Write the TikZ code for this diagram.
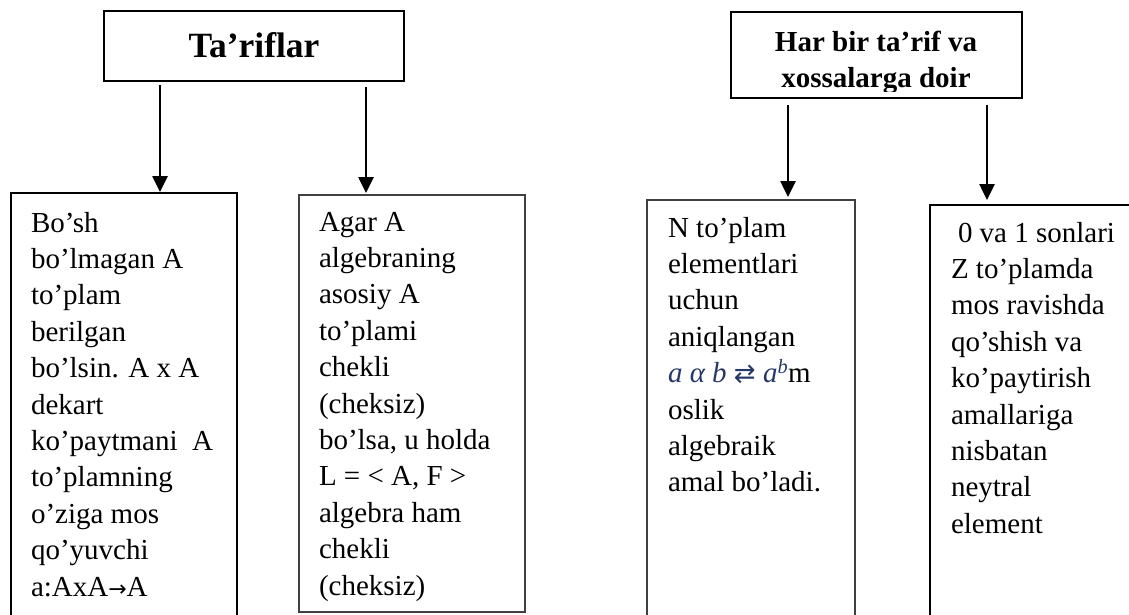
\documentclass[tikz,border=0pt]{standalone}
\usepackage{fontspec}
\setmainfont{Liberation Serif}
\newfontfamily\symfont{DejaVu Sans}
\usetikzlibrary{arrows.meta}
\definecolor{mathblue}{RGB}{38,56,104}
\definecolor{edgegray}{RGB}{64,64,64}

\begin{document}
\begin{tikzpicture}[x=1pt,y=-1pt,
  frame/.style={draw, line width=1.3pt, inner sep=0pt, outer sep=0pt, anchor=north west},
  body/.style={font=\fontsize{29}{36.4}\selectfont, align=left, inner sep=0pt, outer sep=0pt, anchor=north west},
  head/.style={font=\bfseries\fontsize{29}{36}\selectfont, align=center, inner sep=0pt, outer sep=0pt},
  link/.style={line width=2.6pt, -{Triangle[width=15pt,length=16pt]}}]

\useasboundingbox (0,0) rectangle (1129,614);
\clip (0,0) rectangle (1129,614);

% heading boxes
\node[frame, minimum width=300pt, minimum height=70pt] (T1) at (104,11) {};
\node[head, font=\bfseries\fontsize{35.5}{40}\selectfont, anchor=base] (T1txt) at (254,57) {Ta’riflar};

\begin{scope}
  % the text area ends a little above the lower border
  \clip (731,12) rectangle (1022,91);
  \node[head, anchor=north] (T2txt) at (876,25) {\rule{0pt}{26pt}Har bir ta’rif va\\ xossalarga doir};
\end{scope}
\node[frame, minimum width=291pt, minimum height=86pt] (T2) at (731,12) {};

% content boxes
\node[frame, line width=1.1pt, minimum width=226pt, minimum height=450pt] (bA) at (11,193) {};
\node[frame, draw=edgegray, line width=1.5pt, minimum width=226pt, minimum height=417pt] (bB) at (299,195) {};
\node[frame, draw=edgegray, line width=1.8pt, minimum width=208pt, minimum height=450pt] (bC) at (647,200) {};
\node[frame, line width=1.3pt, minimum width=250pt, minimum height=450pt] (bD) at (930,205) {};

% texts of the content boxes
\node[body] (tA) at (31,206) {\rule{0pt}{26pt}Bo’sh\\
  bo’lmagan A\\
  to’plam\\
  berilgan\\
  bo’lsin. A x A\\
  dekart\\
  ko’paytmani\ \ A\\
  to’plamning\\
  o’ziga mos\\
  qo’yuvchi\\
  a:AxA{\symfont\fontsize{22}{22}\selectfont →}A};

\node[body] (tB) at (319,205) {\rule{0pt}{26pt}Agar A\\
  algebraning\\
  asosiy A\\
  to’plami\\
  chekli\\
  (cheksiz)\\
  bo’lsa, u holda\\
  L = < A, F >\\
  algebra ham\\
  chekli\\
  (cheksiz)};

\node[body] (tC) at (668,211) {\rule{0pt}{26pt}N to’plam\\
  elementlari\\
  uchun\\
  aniqlangan\\
  {\color{mathblue}\itshape a α b {\upshape\symfont\fontsize{26}{26}\selectfont ⇄} a\textsuperscript{b}}m\\
  oslik\\
  algebraik\\
  amal bo’ladi.};

\node[body] (tD) at (951,216) {\rule{0pt}{26pt}\hspace*{7pt}0 va 1 sonlari\\
  Z to’plamda\\
  mos ravishda\\
  qo’shish va\\
  ko’paytirish\\
  amallariga\\
  nisbatan\\
  neytral\\
  element};

% connectors
\coordinate (s1) at (160,85);
\coordinate (s2) at (366,87);
\coordinate (s3) at (788,105);
\coordinate (s4) at (987,105);
\draw[link, shorten >=1pt] (s1) -- (s1 |- bA.north);
\draw[link, shorten >=2pt] (s2) -- (s2 |- bB.north);
\draw[link, shorten >=3pt] (s3) -- (s3 |- bC.north);
\draw[link, shorten >=5pt] (s4) -- (s4 |- bD.north);
\end{tikzpicture}
\end{document}
